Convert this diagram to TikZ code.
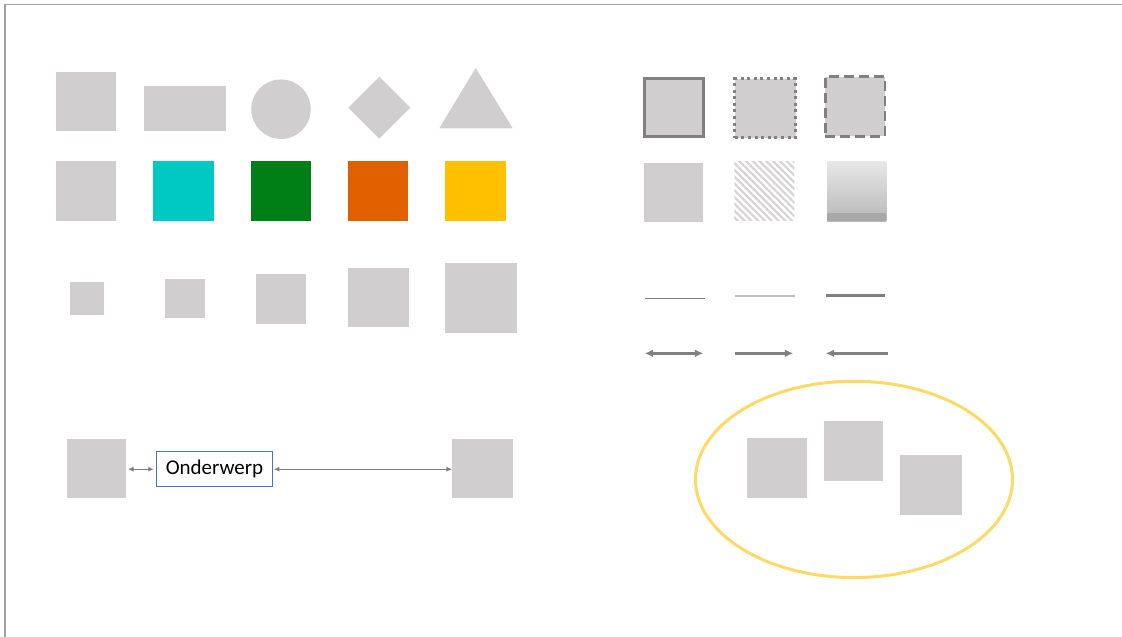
\documentclass[tikz,border=0pt]{standalone}
\usepackage{fontspec}
\setmainfont{Carlito}
\usetikzlibrary{arrows.meta,shapes.geometric,patterns.meta}
\definecolor{gfill}{RGB}{208,206,206}
\definecolor{edgegray}{RGB}{128,128,128}
\definecolor{framegray}{RGB}{160,160,160}
\definecolor{lightline}{RGB}{192,192,192}
\definecolor{cyanbox}{RGB}{0,200,195}
\definecolor{greenbox}{RGB}{0,127,22}
\definecolor{orangebox}{RGB}{224,96,0}
\definecolor{yellowbox}{RGB}{255,192,0}
\definecolor{blueedge}{RGB}{68,114,196}
\definecolor{ellyellow}{RGB}{255,217,102}
\definecolor{hatchgray}{RGB}{214,212,212}
\definecolor{gradtop}{RGB}{232,232,232}
\definecolor{gradbot}{RGB}{184,184,184}
\definecolor{gradband}{RGB}{168,168,168}
\begin{document}
\begin{tikzpicture}[x=1pt,y=-1pt,
  gbox/.style={rectangle,fill=gfill,draw=none,inner sep=0pt,outer sep=0pt},
  cbox/.style={rectangle,draw=none,inner sep=0pt,outer sep=0pt},
  sampleline/.style={edgegray,line width=2.4pt},
  bigtip/.style={-{Latex[length=8.5pt,width=8pt]}},
  smallarrow/.style={edgegray,line width=0.9pt,{Latex[length=5.5pt,width=5pt]}-{Latex[length=5.5pt,width=5pt]}}
]
\useasboundingbox (0,0) rectangle (1122,637);
% frame
\draw[framegray,line width=1.5pt] (5,637) -- (5,4.5) -- (1122,4.5);

% row 1: shapes
\node[gbox,minimum width=60pt,minimum height=59pt] (sq1) at (85.8,101.8) {};
\node[gbox,minimum width=82.6pt,minimum height=45pt] (rect1) at (185,108.7) {};
\node[circle,fill=gfill,inner sep=0pt,minimum size=59.5pt] (circ1) at (281,109.2) {};
\node[diamond,fill=gfill,inner sep=0pt,minimum width=62pt,minimum height=62pt] (dia1) at (379.3,107.7) {};
\fill[gfill] (439.3,128.3) coordinate (triL) -- (475.7,68) coordinate (triT) -- (512.7,128.3) coordinate (triR) -- cycle;

% row 2: colours
\node[cbox,fill=gfill,minimum width=59.7pt,minimum height=59.7pt] (col1) at (85.8,191.2) {};
\node[cbox,fill=cyanbox,minimum width=60.7pt,minimum height=59.7pt] (col2) at (183.3,191.2) {};
\node[cbox,fill=greenbox,minimum width=59.7pt,minimum height=59.7pt] (col3) at (281.2,191.2) {};
\node[cbox,fill=orangebox,minimum width=59.7pt,minimum height=59.7pt] (col4) at (378.2,191.2) {};
\node[cbox,fill=yellowbox,minimum width=61pt,minimum height=59.7pt] (col5) at (475.8,191.2) {};

% row 3: sizes
\node[gbox,minimum width=34pt,minimum height=33pt] (sz1) at (87.3,298.5) {};
\node[gbox,minimum width=39.4pt,minimum height=39pt] (sz2) at (185,298.2) {};
\node[gbox,minimum width=50pt,minimum height=50pt] (sz3) at (281.3,299.3) {};
\node[gbox,minimum width=61pt,minimum height=59.3pt] (sz4) at (378.8,297.3) {};
\node[gbox,minimum width=72pt,minimum height=70pt] (sz5) at (481.3,298.3) {};

% top right: border styles
\node[gbox,draw=edgegray,line width=3pt,minimum width=59pt,minimum height=57.7pt] (st1) at (673.7,107.3) {};
\node[gbox,draw=edgegray,line width=3pt,dash pattern=on 3pt off 3.6pt,minimum width=60.7pt,minimum height=59pt] (st2) at (765.2,108) {};
\node[gbox,draw=edgegray,line width=2.8pt,dash pattern=on 10pt off 5pt,minimum width=59.5pt,minimum height=59.5pt] (st3) at (855.2,106.5) {};

% fill styles
\node[gbox,minimum width=59.3pt,minimum height=59.3pt] (fl1) at (673.7,192.7) {};
\node[cbox,pattern={Lines[angle=-45,distance=4.8pt,line width=2.2pt]},pattern color=hatchgray,minimum width=60pt,minimum height=59.7pt] (fl2) at (764.3,190.9) {};
\node[cbox,top color=gradtop,bottom color=gradbot,minimum width=59.3pt,minimum height=60pt] (fl3) at (856.7,191) {};
\fill[gradband] (fl3.south west) rectangle ([yshift=8.3pt]fl3.south east);

% line samples
\coordinate (l1a) at (644.7,298.3); \coordinate (l1b) at (704.7,298.3);
\coordinate (l2a) at (734.7,295.7); \coordinate (l2b) at (794.7,295.7);
\coordinate (l3a) at (825.7,295.7); \coordinate (l3b) at (885.3,295.7);
\draw[edgegray,line width=1.1pt] (l1a) -- (l1b);
\draw[lightline,line width=2.2pt] (l2a) -- (l2b);
\draw[edgegray,line width=2.6pt] (l3a) -- (l3b);

% arrow samples
\coordinate (a1a) at (644.7,353.3); \coordinate (a1b) at (703.3,353.3);
\coordinate (a2a) at (734.7,353.3); \coordinate (a2b) at (793.3,353.3);
\coordinate (a3a) at (825.7,353.3); \coordinate (a3b) at (887.7,353.3);
\draw[sampleline,{Latex[length=8.5pt,width=8pt]}-{Latex[length=8.5pt,width=8pt]}] (a1a) -- (a1b);
\draw[sampleline,bigtip] (a2a) -- (a2b);
\draw[sampleline,bigtip] (a3b) -- (a3a);

% bottom left: topic with connectors
\node[gbox,minimum width=59pt,minimum height=58.7pt] (lsq) at (96.8,468.4) {};
\node[rectangle,draw=blueedge,line width=1.1pt,fill=white,inner sep=0pt,minimum width=116.4pt,minimum height=35pt,font=\fontsize{21}{25}\selectfont] (onder) at (214.5,469.2) {Onderwerp};
\node[gbox,minimum width=60.7pt,minimum height=58.7pt] (rsq) at (482.3,468.4) {};
\draw[smallarrow,shorten <=1.7pt,shorten >=2pt] (lsq.east |- onder.west) -- (onder.west);
\draw[smallarrow,shorten <=0.6pt] (onder.east) -- (rsq.west |- onder.east);

% bottom right: group in ellipse
\node[ellipse,draw=ellyellow,line width=3pt,inner sep=0pt,minimum width=317pt,minimum height=196.3pt] (grp) at (854,479.4) {};
\node[gbox,minimum width=59.4pt,minimum height=60pt] (ga) at (777,468) {};
\node[gbox,minimum width=59.6pt,minimum height=59.7pt] (gb) at (853.5,450.8) {};
\node[gbox,minimum width=61.4pt,minimum height=59.7pt] (gc) at (931,485.2) {};
\end{tikzpicture}
\end{document}
